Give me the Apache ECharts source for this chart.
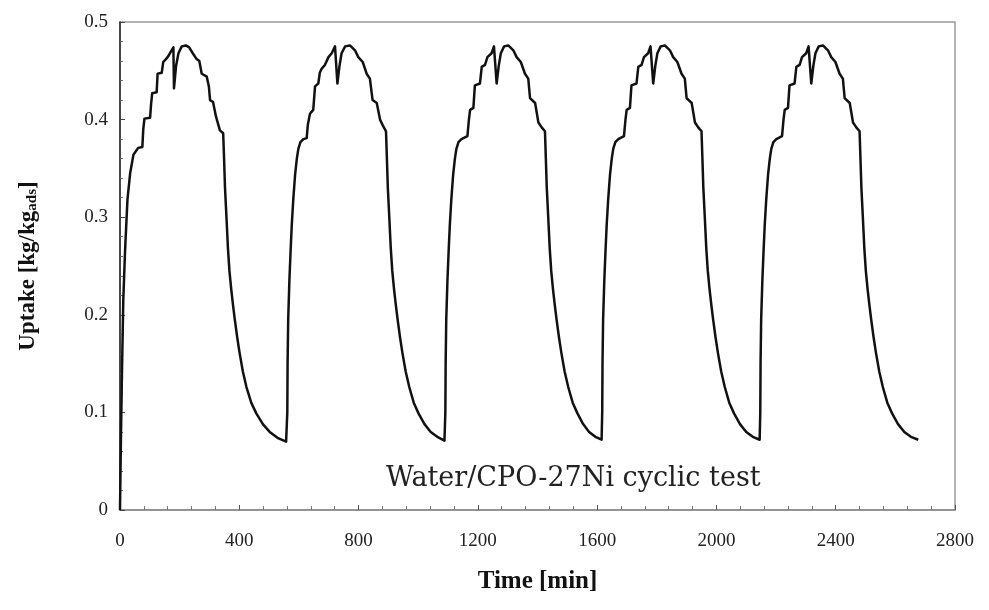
<!DOCTYPE html>
<html>
<head>
<meta charset="utf-8">
<script src="https://cdn.jsdelivr.net/npm/echarts@6/dist/echarts.min.js"></script>
<style>
html,body{margin:0;padding:0;background:#fff;}
#chart{width:989px;height:610px;}
</style>
</head>
<body>
<div id="chart"></div>
<script>
// ---- data ----
const xTicks = [0, 400, 800, 1200, 1600, 2000, 2400, 2800];
const yTicks = [0, 0.1, 0.2, 0.3, 0.4, 0.5];

const cycle1Time   = [0, 3, 6, 11, 17, 25, 34, 45, 61, 75, 78, 82, 101, 104, 108, 123, 126, 140, 145, 154, 162, 171, 179, 181, 188, 196, 207, 221, 232, 244, 257, 266, 274, 291, 298, 302, 312, 322, 335,
                      346, 349, 352, 357, 362, 367, 373, 379, 385, 393, 401, 412, 424, 440, 457, 479, 502, 528, 557];
const cycle1Uptake = [0, 0.07, 0.13, 0.215, 0.266, 0.318, 0.345, 0.364, 0.371, 0.372, 0.39, 0.401, 0.402, 0.415, 0.427, 0.428, 0.447, 0.448, 0.459, 0.462, 0.465, 0.470, 0.474, 0.432, 0.455, 0.468, 0.475, 0.476, 0.474, 0.468, 0.462, 0.460, 0.447, 0.444, 0.434, 0.420, 0.418, 0.403, 0.389,
                      0.386, 0.360, 0.331, 0.300, 0.268, 0.245, 0.226, 0.210, 0.195, 0.177, 0.161, 0.142, 0.126, 0.110, 0.099, 0.088, 0.080, 0.074, 0.070];

const cycle2Time   = [560, 561, 562, 564, 568, 572, 576, 581, 587, 593, 598, 605, 615, 626, 630, 637, 648, 654, 665, 670, 676, 687, 699, 710, 721, 729, 736, 743, 755, 771, 788, 799, 814, 827, 838, 847, 861, 872, 883,
                      892, 895, 898, 903, 908, 913, 919, 925, 931, 939, 947, 958, 970, 985, 1001, 1021, 1042, 1064, 1088];
const cycle2Uptake = [0.071, 0.100, 0.150, 0.195, 0.235, 0.265, 0.292, 0.318, 0.343, 0.360, 0.370, 0.377, 0.380, 0.381, 0.395, 0.406, 0.410, 0.434, 0.437, 0.448, 0.452, 0.456, 0.464, 0.468, 0.475, 0.437, 0.455, 0.468, 0.475, 0.476, 0.471, 0.464, 0.459, 0.447, 0.442, 0.420, 0.417, 0.400, 0.393,
                      0.388, 0.360, 0.331, 0.300, 0.268, 0.245, 0.226, 0.210, 0.195, 0.177, 0.161, 0.142, 0.126, 0.110, 0.099, 0.088, 0.080, 0.075, 0.071];

const cycle3Time   = [1090, 1091, 1092, 1094, 1098, 1102, 1106, 1111, 1117, 1123, 1128, 1135, 1145, 1165, 1170, 1174, 1185, 1190, 1207, 1213, 1224, 1232, 1246, 1254, 1263, 1270, 1277, 1288, 1302, 1319, 1330, 1344, 1358, 1369, 1375, 1392, 1403, 1414,
                      1425, 1428, 1431, 1436, 1441, 1446, 1452, 1458, 1464, 1472, 1480, 1491, 1503, 1518, 1534, 1553, 1573, 1594, 1615];
const cycle3Uptake = [0.072, 0.100, 0.150, 0.195, 0.235, 0.265, 0.292, 0.318, 0.343, 0.360, 0.370, 0.377, 0.380, 0.383, 0.400, 0.410, 0.412, 0.435, 0.437, 0.454, 0.456, 0.464, 0.468, 0.475, 0.437, 0.455, 0.468, 0.475, 0.476, 0.471, 0.464, 0.459, 0.447, 0.442, 0.422, 0.417, 0.397, 0.392,
                      0.388, 0.360, 0.331, 0.300, 0.268, 0.245, 0.226, 0.210, 0.195, 0.177, 0.161, 0.142, 0.126, 0.110, 0.099, 0.088, 0.080, 0.075, 0.072];

const cycle4Time   = [1616, 1617, 1618, 1620, 1624, 1628, 1632, 1637, 1643, 1649, 1654, 1661, 1671, 1690, 1695, 1699, 1710, 1715, 1732, 1738, 1749, 1757, 1771, 1779, 1788, 1795, 1802, 1813, 1827, 1844, 1855, 1869, 1883, 1894, 1900, 1917, 1928, 1939,
                      1950, 1953, 1956, 1961, 1966, 1971, 1977, 1983, 1989, 1997, 2005, 2016, 2028, 2043, 2059, 2079, 2100, 2122, 2145];
const cycle4Uptake = [0.072, 0.100, 0.150, 0.195, 0.235, 0.265, 0.292, 0.318, 0.343, 0.360, 0.370, 0.377, 0.380, 0.383, 0.400, 0.410, 0.412, 0.435, 0.437, 0.454, 0.456, 0.464, 0.468, 0.475, 0.437, 0.455, 0.468, 0.475, 0.476, 0.471, 0.464, 0.459, 0.447, 0.442, 0.422, 0.417, 0.397, 0.392,
                      0.388, 0.360, 0.331, 0.300, 0.268, 0.245, 0.226, 0.210, 0.195, 0.177, 0.161, 0.142, 0.126, 0.110, 0.099, 0.088, 0.080, 0.075, 0.072];

const cycle5Time   = [2146, 2147, 2148, 2150, 2154, 2158, 2162, 2167, 2173, 2179, 2184, 2191, 2201, 2220, 2225, 2229, 2240, 2245, 2262, 2268, 2279, 2287, 2301, 2309, 2318, 2325, 2332, 2343, 2357, 2374, 2385, 2399, 2413, 2424, 2430, 2447, 2458, 2469,
                      2480, 2483, 2486, 2491, 2496, 2501, 2507, 2513, 2519, 2527, 2535, 2546, 2558, 2573, 2589, 2609, 2630, 2652, 2677];
const cycle5Uptake = [0.072, 0.100, 0.150, 0.195, 0.235, 0.265, 0.292, 0.318, 0.343, 0.360, 0.370, 0.377, 0.380, 0.383, 0.400, 0.410, 0.412, 0.435, 0.437, 0.454, 0.456, 0.464, 0.468, 0.475, 0.437, 0.455, 0.468, 0.475, 0.476, 0.471, 0.464, 0.459, 0.447, 0.442, 0.422, 0.417, 0.397, 0.392,
                      0.388, 0.360, 0.331, 0.300, 0.268, 0.245, 0.226, 0.210, 0.195, 0.177, 0.161, 0.142, 0.126, 0.110, 0.099, 0.088, 0.080, 0.075, 0.072];

const annotationText = 'Water/CPO-27Ni cyclic test';

// ---- build ----
const cycles = [
  [cycle1Time, cycle1Uptake],
  [cycle2Time, cycle2Uptake],
  [cycle3Time, cycle3Uptake],
  [cycle4Time, cycle4Uptake],
  [cycle5Time, cycle5Uptake]
];
const seriesData = [];
cycles.forEach(([t, u]) => t.forEach((x, i) => seriesData.push([x, u[i]])));

const serif = '"Liberation Serif", "Times New Roman", serif';
const chart = echarts.init(document.getElementById('chart'), null, {renderer: 'canvas'});
chart.setOption({
  animation: false,
  backgroundColor: '#fff',
  grid: {left: 120, right: 34, top: 22, bottom: 100, show: true, borderColor: '#9a9a9a', borderWidth: 1.5, backgroundColor: 'transparent'},
  xAxis: {
    type: 'value', min: xTicks[0], max: xTicks[xTicks.length - 1], interval: 400,
    name: 'Time [min]', nameLocation: 'middle', nameGap: 59,
    nameTextStyle: {fontFamily: serif, fontWeight: 'bold', fontSize: 25, color: '#111'},
    axisLine: {show: true, lineStyle: {color: '#8a8a8a', width: 1.5}},
    axisTick: {show: true, inside: true, length: 5, lineStyle: {color: '#555'}},
    minorTick: {show: true, splitNumber: 5, length: 4, lineStyle: {color: '#777'}},
    splitLine: {show: false},
    axisLabel: {fontFamily: serif, fontSize: 19, color: '#222', margin: 22, formatter: v => String(v)}
  },
  yAxis: {
    type: 'value', min: yTicks[0], max: yTicks[yTicks.length - 1], interval: 0.1,
    name: '{b|Uptake [kg/kg}{s|ads}{b|]}', nameLocation: 'middle', nameGap: 80, nameRotate: 90,
    nameTextStyle: {
      fontFamily: serif, fontWeight: 'bold', fontSize: 23, color: '#111',
      rich: {
        b: {fontFamily: serif, fontWeight: 'bold', fontSize: 23, color: '#111'},
        s: {fontFamily: serif, fontWeight: 'bold', fontSize: 15, color: '#111', verticalAlign: 'bottom', padding: [9, 0, 0, 0]}
      }
    },
    axisLine: {show: true, lineStyle: {color: '#222', width: 1.5}},
    axisTick: {show: true, inside: true, length: 5, lineStyle: {color: '#444'}},
    minorTick: {show: true, splitNumber: 5, length: 3, lineStyle: {color: '#666'}},
    splitLine: {show: false},
    axisLabel: {fontFamily: serif, fontSize: 19, color: '#222', margin: 12}
  },
  graphic: [{
    type: 'text', left: 386, top: 465,
    style: {text: annotationText, font: '27px "DejaVu Serif", serif', fill: '#222'}
  }],
  series: [{
    type: 'line', data: seriesData, showSymbol: false, smooth: false,
    lineStyle: {color: '#111', width: 2.5, join: 'round'}
  }]
});
</script>
</body>
</html>
